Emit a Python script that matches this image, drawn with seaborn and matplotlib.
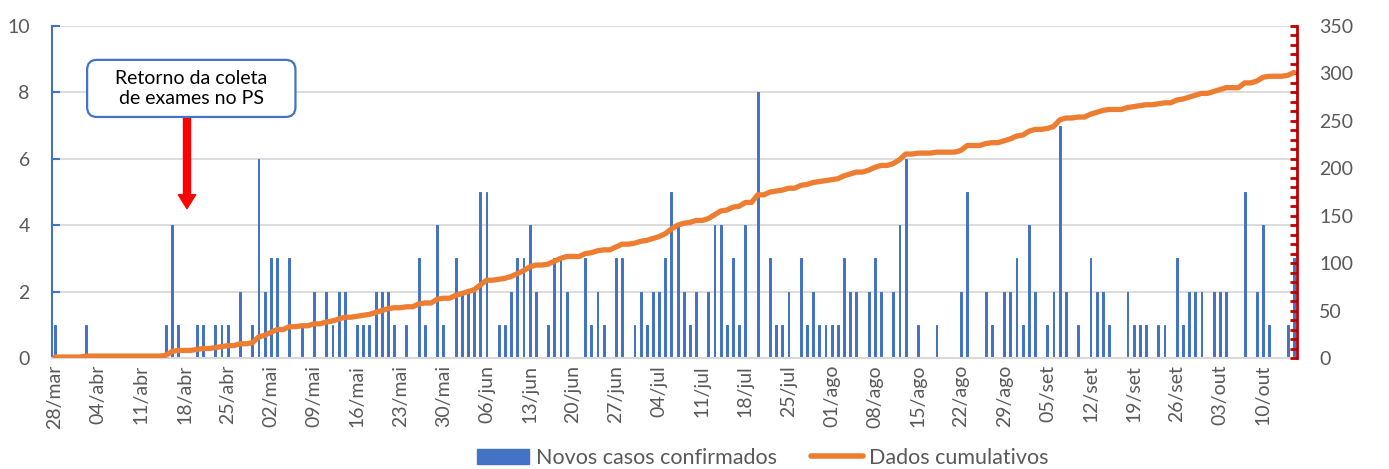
import matplotlib
matplotlib.use('Agg')
import matplotlib.pyplot as plt
import seaborn as sns
import numpy as np
import pandas as pd
from matplotlib.patches import Patch, FancyBboxPatch
from matplotlib.lines import Line2D
from matplotlib.ticker import MultipleLocator

# novos casos por dia, a partir de 28/mar (uma linha por semana)
novos_casos = [
    1, 0, 0, 0, 0, 1, 0,
    0, 0, 0, 0, 0, 0, 0,
    0, 0, 0, 0, 1, 4, 1,
    0, 0, 1, 1, 0, 1, 1,
    1, 0, 2, 0, 1, 6, 2,
    3, 3, 0, 3, 0, 1, 0,
    2, 0, 2, 1, 2, 2, 0,
    1, 1, 1, 2, 2, 2, 1,
    0, 1, 0, 3, 1, 0, 4,
    1, 0, 3, 2, 2, 2, 5,
    5, 0, 1, 1, 2, 3, 3,
    4, 2, 0, 1, 3, 3, 2,
    0, 0, 3, 1, 2, 1, 0,
    3, 3, 0, 1, 2, 1, 2,
    2, 3, 5, 4, 2, 1, 2,
    0, 2, 4, 4, 1, 3, 1,
    4, 0, 8, 0, 3, 1, 1,
    2, 0, 3, 1, 2, 1, 1,
    1, 1, 3, 2, 2, 0, 2,
    3, 2, 0, 2, 4, 6, 0,
    1, 0, 0, 1, 0, 0, 0,
    2, 5, 0, 0, 2, 1, 0,
    2, 2, 3, 1, 4, 2, 0,
    1, 2, 7, 2, 0, 1, 0,
    3, 2, 2, 1, 0, 0, 2,
    1, 1, 1, 0, 1, 1, 0,
    3, 1, 2, 2, 2, 0, 2,
    2, 2, 0, 0, 5, 0, 2,
    4, 1, 0, 0, 1, 3,
]

rotulos_x = ['28/mar', '04/abr', '11/abr', '18/abr', '25/abr', '02/mai', '09/mai',
             '16/mai', '23/mai', '30/mai', '06/jun', '13/jun', '20/jun', '27/jun',
             '04/jul', '11/jul', '18/jul', '25/jul', '01/ago', '08/ago', '15/ago',
             '22/ago', '29/ago', '05/set', '12/set', '19/set', '26/set', '03/out',
             '10/out']

df = pd.DataFrame({'dia': np.arange(len(novos_casos)), 'casos': novos_casos})
df['cumulativo'] = df['casos'].cumsum()

azul = '#4472C4'
laranja = '#ED7D31'
cinza = '#595959'

sns.set_style('white')
plt.rcParams['font.family'] = ['Lato', 'DejaVu Sans']

fig = plt.figure(figsize=(13.89, 4.69), dpi=100)
ax = fig.add_axes([52 / 1389, 1 - 358 / 469, 1245 / 1389, 332 / 469])

sns.barplot(data=df, x='dia', y='casos', native_scale=True, color=azul,
            saturation=1, width=0.3, errorbar=None, ax=ax,
            edgecolor=azul, linewidth=0.7)
ax.set_axisbelow(True)
ax.grid(axis='y', color='#D9D9D9', lw=1.3)
ax.set_ylim(0, 10)
ax.set_yticks(range(0, 11, 2))
ax.set_xlabel('')
ax.set_ylabel('')

ax2 = ax.twinx()
sns.lineplot(data=df, x='dia', y='cumulativo', color=laranja, lw=3.8,
             solid_capstyle='round', ax=ax2)
ax2.set_ylim(0, 350)
ax2.yaxis.set_major_locator(MultipleLocator(50))
ax2.yaxis.set_minor_locator(MultipleLocator(10))
ax2.set_ylabel('')

ax.set_xlim(-0.5, len(novos_casos) - 0.5)
ax.set_xticks(np.arange(0, len(novos_casos), 7))
ax.set_xticklabels(rotulos_x, rotation=90)

for s in ['top', 'right']:
    ax.spines[s].set_visible(False)
ax.spines['left'].set_color(azul)
ax.spines['left'].set_linewidth(1.5)
ax.spines['bottom'].set_color('#D9D9D9')
ax.spines['bottom'].set_linewidth(1.5)
for s in ['top', 'left', 'bottom']:
    ax2.spines[s].set_visible(False)
ax2.spines['right'].set_color('#C00000')
ax2.spines['right'].set_linewidth(2)

ax.tick_params(axis='y', direction='in', length=6, width=1.5, color=azul,
               labelsize=14, labelcolor=cinza, pad=16)
ax.tick_params(axis='x', length=0, labelsize=14, labelcolor=cinza, pad=5)
ax2.tick_params(axis='y', which='both', direction='in', length=5, width=2,
                color='#C00000', labelsize=14, labelcolor=cinza, pad=16)

# caixa da anotação (arredondamento corrigido pela proporção dos eixos)
caixa = FancyBboxPatch((5.2, 7.26), 33.8, 1.72,
                       boxstyle='round,pad=0,rounding_size=1.6',
                       mutation_aspect=0.187, fc='white', ec=azul, lw=1.6,
                       zorder=5)
ax.add_patch(caixa)
ax.text(22.1, 8.12, 'Retorno da coleta\nde exames no PS', ha='center', va='center',
        fontsize=14, color='black', linespacing=1.25, zorder=6)
ax.annotate('', xy=(21.4, 4.5), xytext=(21.4, 7.26),
            arrowprops=dict(arrowstyle='simple,head_width=1.25,head_length=1.0,tail_width=0.5',
                            color='#FF0000', mutation_scale=10, shrinkA=0, shrinkB=0))

handles = [Patch(color=azul), Line2D([0], [0], color=laranja, lw=4, solid_capstyle='round')]
fig.legend(handles, ['Novos casos confirmados', 'Dados cumulativos'], loc='center',
           bbox_to_anchor=(763 / 1389, 1 - 458 / 469), ncol=2, frameon=False,
           fontsize=15.5, labelcolor=cinza, handlelength=2.4, columnspacing=1.6,
           handletextpad=0.3)

fig.savefig('out.png', dpi=100)
